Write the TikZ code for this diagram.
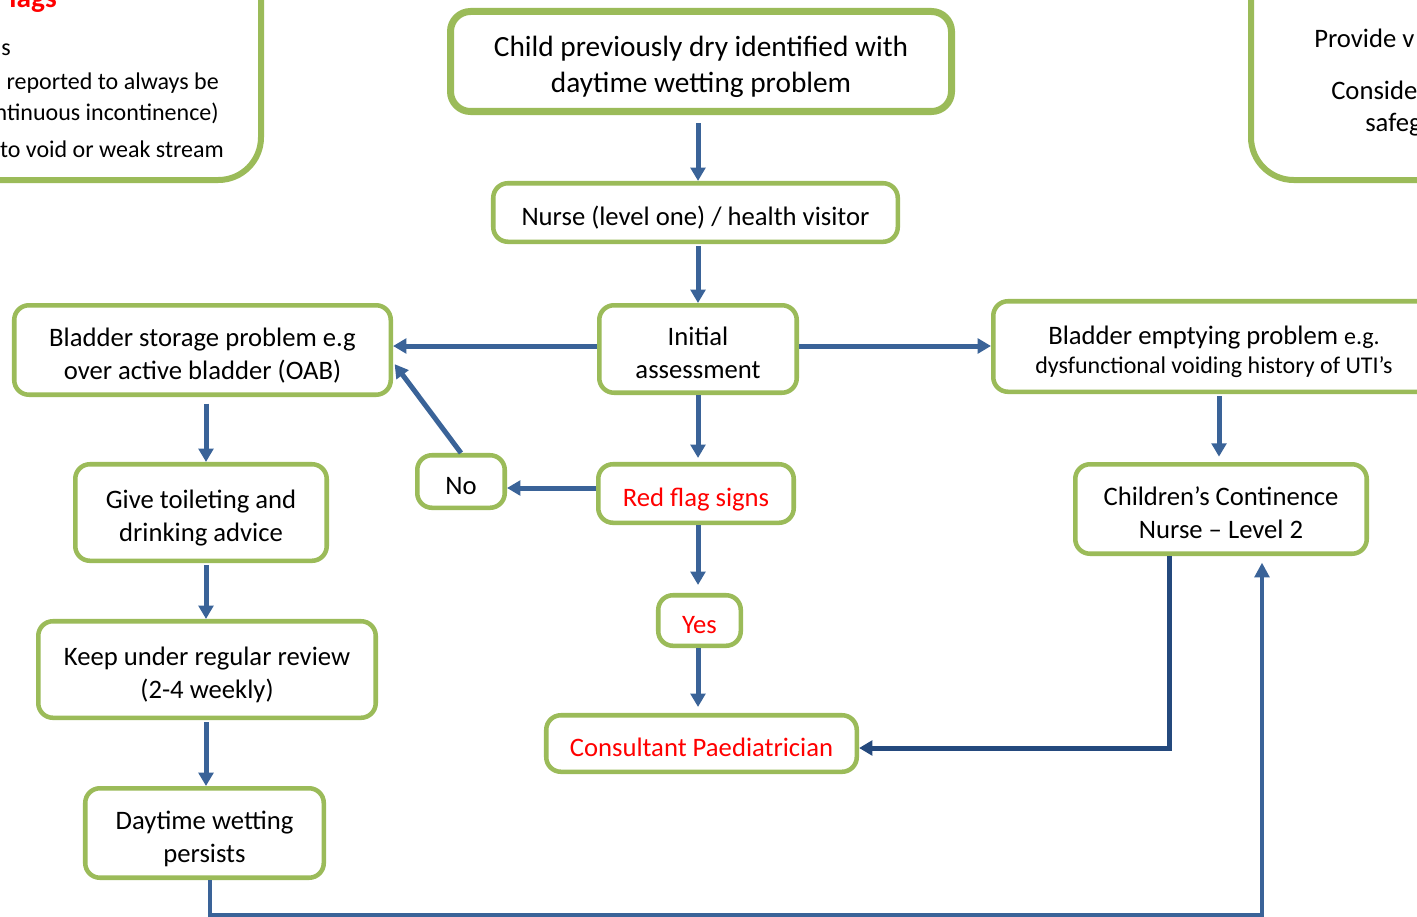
\documentclass[tikz,border=0pt]{standalone}
\usepackage{fontspec}
\setmainfont{Carlito}
\usetikzlibrary{arrows.meta,calc}
\definecolor{boxgreen}{HTML}{9BBB59}
\definecolor{arrblue}{HTML}{3A6398}
\definecolor{darkblue}{HTML}{24497D}
\definecolor{flagred}{HTML}{FF0000}
\newcommand{\hstrut}{\rule{0pt}{24pt}}
\newcommand{\dstrut}{\rule[-5pt]{0pt}{5pt}}
\begin{document}
\begin{tikzpicture}[x=0.75pt,y=-0.75pt,
 box/.style={draw=boxgreen, line width=3.4pt, rounded corners=11pt, fill=white, align=center, inner sep=0pt,
   font=\fontsize{20}{24.5}\selectfont},
 redtxt/.style={text=flagred},
 cuttxt/.style={inner sep=0pt, font=\fontsize{18}{22}\selectfont},
 arr/.style={draw=arrblue, line width=3.75pt, -{Triangle[length=10pt,width=11pt]}},
 thinarr/.style={draw=arrblue, line width=2.6pt, -{Triangle[length=11pt,width=11pt]}},
]
\useasboundingbox (0,0) rectangle (1417,917);
\clip (0,0) rectangle (1417,917);

% partially visible boxes
\draw[draw=boxgreen, line width=4.5pt, rounded corners=32pt, fill=white] (-80,-80) rectangle (261,180);
\draw[draw=boxgreen, line width=4.5pt, rounded corners=32pt, fill=white] (1251,-80) rectangle (1500,180);
\node[cuttxt, anchor=east, text=flagred, font=\fontsize{22}{26}\selectfont\bfseries] (tl0) at (57,0) {lags};
\node[cuttxt, anchor=east] (tl1) at (11,47) {ls};
\node[cuttxt, anchor=east] (tl2) at (219,83) {reported to always be};
\node[cuttxt, anchor=east] (tl3) at (219,113) {ntinuous incontinence)};
\node[cuttxt, anchor=east] (tl4) at (224,149) {to void or weak stream};
\node[cuttxt, anchor=west, font=\fontsize{20}{24}\selectfont] (tr1) at (1314,38) {Provide v};
\node[cuttxt, anchor=west, font=\fontsize{20}{24}\selectfont] (tr2) at (1331,90) {Conside};
\node[cuttxt, anchor=west, font=\fontsize{20}{24}\selectfont] (tr3) at (1365,125) {safeg};

% main boxes
\node[box, line width=5.25pt, rounded corners=15pt, minimum width=375.75pt, minimum height=75pt,
      font=\fontsize{22}{27}\selectfont] (top) at (701,61.5) {\hstrut Child previously dry identified with\\daytime wetting problem\dstrut};
\node[box, minimum width=303.4pt, minimum height=43.9pt] (nurse) at (695.5,212.5) {\hstrut Nurse (level one) / health visitor\dstrut};
\node[box, minimum width=148.1pt, minimum height=65.6pt] (init) at (698,349) {\hstrut Initial\\assessment\dstrut};
\node[box, minimum width=282.4pt, minimum height=67.1pt] (storage) at (202.5,350) {\hstrut Bladder storage problem e.g\\over active bladder (OAB)\dstrut};
\node[box, minimum width=331.1pt, minimum height=67.9pt] (empty) at (1214,346.5) {\hstrut Bladder emptying problem {\fontsize{18}{20}\selectfont e.g.}\\[-3pt]{\fontsize{18}{20}\selectfont dysfunctional voiding history of UTI’s}\dstrut};
\node[box, redtxt, minimum width=146.6pt, minimum height=43.9pt] (redflag) at (696,493.5) {\hstrut Red flag signs\dstrut};
\node[box, minimum width=65.6pt, minimum height=39.4pt] (no) at (461,481.5) {\hstrut No\dstrut};
\node[box, redtxt, minimum width=61.9pt, minimum height=37.9pt] (yes) at (699.5,620.5) {\hstrut Yes\dstrut};
\node[box, redtxt, minimum width=232.9pt, minimum height=42.4pt] (cons) at (701.5,743.5) {\hstrut Consultant Paediatrician\dstrut};
\node[box, minimum width=188.6pt, minimum height=72.4pt] (give) at (201,512.5) {\hstrut Give toileting and\\drinking advice\dstrut};
\node[box, minimum width=253.1pt, minimum height=72.4pt] (keep) at (207,669.5) {\hstrut Keep under regular review\\(2-4 weekly)\dstrut};
\node[box, minimum width=178.9pt, minimum height=67.1pt] (day) at (204.5,833) {\hstrut Daytime wetting\\persists\dstrut};
\node[box, minimum width=218.6pt, minimum height=67.1pt] (cont) at (1221,509) {\hstrut Children’s Continence\\Nurse – Level 2\dstrut};

% helper coordinates
\coordinate (lc) at (206,0);
\coordinate (ec) at (1219,0);
\coordinate (r1) at (0,346);
\coordinate (r2) at (0,488);
\coordinate (s1) at (0,362);
\coordinate (c1) at (1169,748);
\coordinate (d1) at (210,915);
\coordinate (d2) at (1262,915);

% connectors
\draw[arr, shorten <=6pt] (top.south -| init) -- (nurse.north -| init);
\draw[arr, shorten <=1.5pt] (nurse.south -| init) -- (init.north);
\draw[arr] (init.west |- r1) -- (storage.east |- r1);
\draw[arr] (init.east |- r1) -- (empty.west |- r1);
\draw[arr, shorten >=3pt] (init.south -| init) -- (redflag.north -| init);
\draw[arr] (redflag.west |- r2) -- (no.east |- r2);
\draw[arr, shorten >=2pt] (no.north) -- (storage.east |- s1);
\draw[arr, shorten >=6pt] (redflag.south -| init) -- (yes.north -| init);
\draw[arr, shorten >=4.5pt] (yes.south -| init) -- (cons.north -| init);
\draw[arr, shorten <=1.5pt, shorten >=4pt] (empty.south -| ec) -- (cont.north -| ec);
\draw[arr, draw=darkblue] (cont.south -| c1) -- (c1) -- (cons.east |- c1);
\draw[arr, shorten <=5pt] (storage.south -| lc) -- (give.north -| lc);
\draw[arr, shorten <=1.5pt] (give.south -| lc) -- (keep.north -| lc);
\draw[arr, shorten <=1.5pt] (keep.south -| lc) -- (day.north -| lc);
\draw[thinarr, shorten >=5pt] (day.south -| d1) -- (d1) -- (d2) -- (cont.south -| d2);
\end{tikzpicture}
\end{document}
